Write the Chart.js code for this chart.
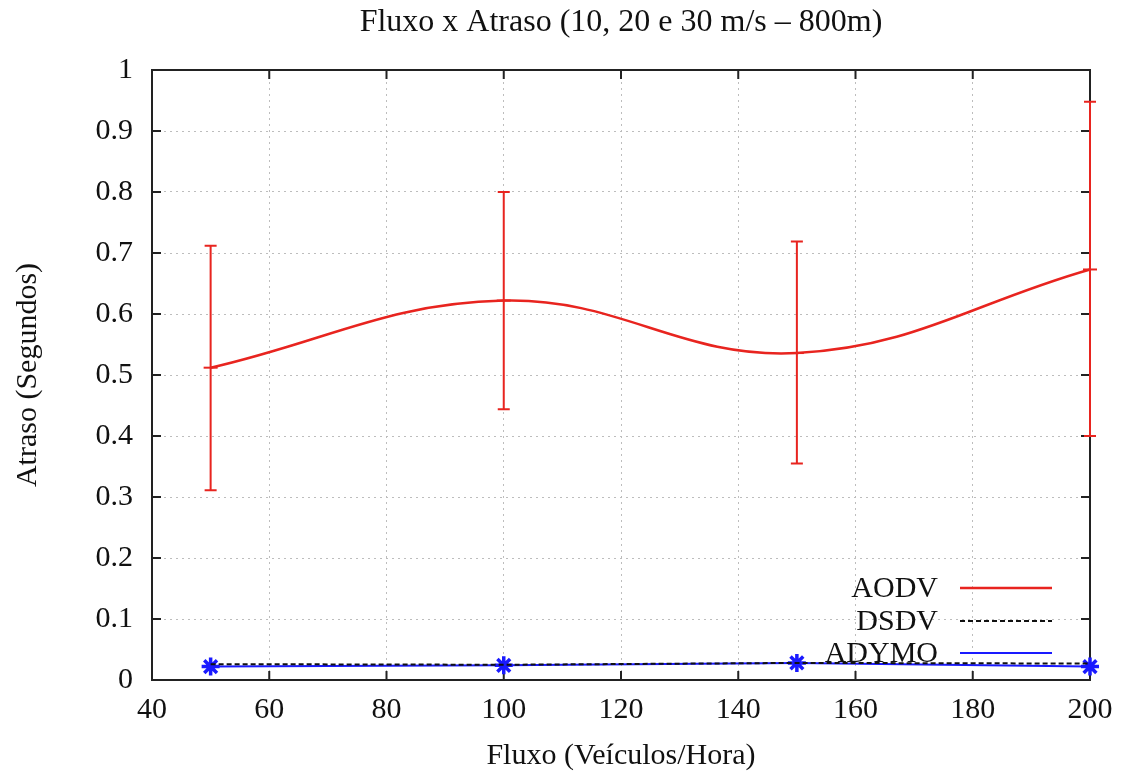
<!DOCTYPE html>
<html>
<head>
<meta charset="utf-8">
<script src="https://cdn.jsdelivr.net/npm/chart.js@4.4.1/dist/chart.umd.min.js"></script>
<style>
  body { margin: 0; background: #fff; }
  #box { width: 1126px; height: 779px; }
</style>
</head>
<body>
<div id="box"><canvas id="grafico" width="1126" height="779"></canvas></div>
<script>
// dados
const fluxo = [50, 100, 150, 200];
const aodv = [0.512, 0.622, 0.536, 0.673];
const aodvMin = [0.311, 0.444, 0.355, 0.400];
const aodvMax = [0.712, 0.800, 0.719, 0.948];
const dsdv = [0.026, 0.025, 0.028, 0.027];
const adymo = [0.022, 0.024, 0.028, 0.022];
const nomes = ["AODV", "DSDV", "ADYMO"];
const cores = ["#e8241f", "#111111", "#1a1aff"];
const titulo = "Fluxo x Atraso (10, 20 e 30 m/s – 800m)";

const serif = "'Liberation Serif', 'DejaVu Serif', serif";

const pontos = (arr) => fluxo.map((x, i) => ({ x: x, y: arr[i] }));

// titulo centrado sobre a area do grafico (como no gnuplot)
const tituloCentrado = {
    id: "tituloCentrado",
    afterDraw(chart) {
        const ctx = chart.ctx;
        const a = chart.chartArea;
        ctx.save();
        ctx.font = "32px " + serif;
        ctx.fillStyle = "#111";
        ctx.textAlign = "center";
        ctx.textBaseline = "middle";
        ctx.fillText(titulo, (a.left + a.right) / 2, 23);
        ctx.restore();
    }
};

// barras de erro do AODV
const barrasErro = {
    id: "barrasErro",
    afterDatasetsDraw(chart) {
        const ctx = chart.ctx;
        const sx = chart.scales.x, sy = chart.scales.y;
        ctx.save();
        ctx.strokeStyle = cores[0];
        ctx.lineWidth = 2;
        for (let i = 0; i < fluxo.length; i++) {
            const x = sx.getPixelForValue(fluxo[i]);
            const yMin = sy.getPixelForValue(aodvMin[i]);
            const yMax = sy.getPixelForValue(aodvMax[i]);
            ctx.beginPath();
            ctx.moveTo(x, yMin); ctx.lineTo(x, yMax);
            ctx.moveTo(x - 6, yMin); ctx.lineTo(x + 6, yMin);
            ctx.moveTo(x - 6, yMax); ctx.lineTo(x + 6, yMax);
            ctx.stroke();
        }
        ctx.restore();
    }
};

// moldura e marcas para dentro (estilo gnuplot)
const moldura = {
    id: "moldura",
    beforeDatasetsDraw(chart) {
        const ctx = chart.ctx;
        const a = chart.chartArea;
        const sx = chart.scales.x, sy = chart.scales.y;
        ctx.save();
        ctx.strokeStyle = "#222";
        ctx.lineWidth = 2;
        ctx.strokeRect(a.left, a.top, a.right - a.left, a.bottom - a.top);
        ctx.beginPath();
        sx.ticks.forEach(t => {
            const x = sx.getPixelForValue(t.value);
            ctx.moveTo(x, a.bottom); ctx.lineTo(x, a.bottom - 9);
            ctx.moveTo(x, a.top); ctx.lineTo(x, a.top + 9);
        });
        sy.ticks.forEach(t => {
            const y = sy.getPixelForValue(t.value);
            ctx.moveTo(a.left, y); ctx.lineTo(a.left + 9, y);
            ctx.moveTo(a.right, y); ctx.lineTo(a.right - 9, y);
        });
        ctx.stroke();
        ctx.restore();
    }
};

// legenda dentro da area, canto inferior direito
const legenda = {
    id: "legenda",
    afterDatasetsDraw(chart) {
        const ctx = chart.ctx;
        const a = chart.chartArea;
        const linhas = [a.bottom - 92, a.bottom - 59, a.bottom - 27];
        ctx.save();
        ctx.font = "30px " + serif;
        ctx.textAlign = "right";
        ctx.textBaseline = "middle";
        nomes.forEach((nome, i) => {
            ctx.fillStyle = "#111";
            ctx.fillText(nome, a.right - 152, linhas[i] + 1);
            ctx.strokeStyle = cores[i];
            ctx.lineWidth = i === 0 ? 2.5 : 2;
            ctx.setLineDash(i === 1 ? [5, 3] : []);
            ctx.beginPath();
            ctx.moveTo(a.right - 130, linhas[i]);
            ctx.lineTo(a.right - 38, linhas[i]);
            ctx.stroke();
        });
        ctx.restore();
    }
};

const grade = { color: "#bdbdbd", lineWidth: 1, drawTicks: false };

new Chart(document.getElementById("grafico"), {
    type: "line",
    data: {
        datasets: [
            {
                label: nomes[0], data: pontos(aodv),
                borderColor: cores[0], backgroundColor: cores[0], borderWidth: 2.5,
                tension: 0.4, pointStyle: "line", pointRadius: 7, pointBorderWidth: 2, clip: false
            },
            {
                label: nomes[1], data: pontos(dsdv),
                borderColor: cores[1], borderWidth: 2, borderDash: [5, 3],
                pointRadius: 0, clip: false
            },
            {
                label: nomes[2], data: pontos(adymo),
                borderColor: cores[2], backgroundColor: cores[2], borderWidth: 2,
                pointStyle: "star", pointRadius: 9, pointBorderWidth: 3.5, clip: false
            }
        ]
    },
    options: {
        responsive: false,
        animation: false,
        layout: { padding: { left: 0, right: 36, top: 70, bottom: 0 } },
        plugins: {
            legend: { display: false },
            tooltip: { enabled: false },
            title: { display: false }
        },
        scales: {
            x: {
                type: "linear", min: 40, max: 200,
                ticks: { stepSize: 20, color: "#111", padding: 12, maxRotation: 0,
                         font: { family: serif, size: 30 } },
                grid: grade,
                border: { display: false, dash: [2, 4] },
                title: { display: true, text: "Fluxo (Veículos/Hora)", color: "#111",
                         font: { family: serif, size: 30 }, padding: { top: 0, bottom: 5 } },
                afterFit: (s) => { s.height = 99; }
            },
            y: {
                min: 0, max: 1,
                ticks: { stepSize: 0.1, color: "#111", padding: 19,
                         font: { family: serif, size: 30 },
                         callback: (v) => String(Math.round(v * 10) / 10) },
                grid: grade,
                border: { display: false, dash: [2, 4] },
                title: { display: true, text: "Atraso (Segundos)", color: "#111",
                         font: { family: serif, size: 30 }, padding: { top: 10, bottom: 0 } },
                afterFit: (s) => { s.width = 152; }
            }
        }
    },
    plugins: [moldura, barrasErro, legenda, tituloCentrado]
});
</script>
</body>
</html>
